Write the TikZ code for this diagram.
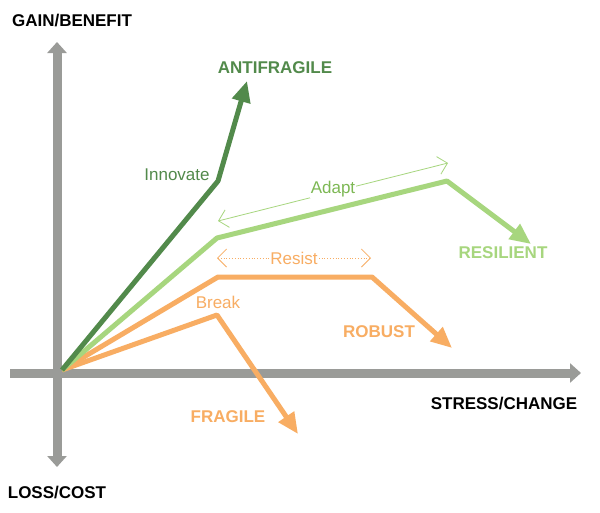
\documentclass[tikz,border=0pt]{standalone}
\usepackage{fontspec}
\setmainfont{Liberation Sans}
\usetikzlibrary{arrows.meta}
\definecolor{axisgray}{HTML}{9A9B98}
\definecolor{dkgreen}{HTML}{528A4B}
\definecolor{ltgreen}{HTML}{A7D67E}
\definecolor{midgreen}{HTML}{7DB854}
\definecolor{orng}{HTML}{F8AD63}
\tikzset{
  axisline/.style={draw=axisgray,line width=9pt},
  curve/.style={line width=5pt,line join=round,-{Triangle[length=21pt,width=18pt]}},
  captext/.style={font=\bfseries\fontsize{17}{19}\selectfont,inner sep=0pt},
  lbl/.style={font=\fontsize{17}{19}\selectfont,inner sep=1pt},
  span/.style={line width=0.8pt,{Straight Barb[length=9pt,width=18pt]}-{Straight Barb[length=9pt,width=18pt]}},
}
\begin{document}
\begin{tikzpicture}[x=1pt,y=-1pt]
\useasboundingbox[fill=white] (0,0) rectangle (600,512);
% axes
\coordinate (vt) at (57,42);
\coordinate (vb) at (57,467);
\coordinate (hl) at (10,373);
\coordinate (hr) at (581,373);
\draw[axisline,{Triangle[length=11pt,width=19pt]}-{Triangle[length=11pt,width=19pt]}] (vb) -- (vt);
\draw[axisline,-{Triangle[length=11pt,width=19pt]}] (hl) -- (hr);
\node[captext,text=black] (gain) at (72,21) {GAIN/BENEFIT};
\node[captext,text=black] (loss) at (57,493) {LOSS/COST};
\node[captext,text=black] (stress) at (504,404) {STRESS/CHANGE};
% origin
\coordinate (o) at (62,370);
% fragile
\coordinate (f1) at (217,315);
\coordinate (f2) at (298,434);
\draw[curve,orng] (o) -- (f1) -- (f2);
% robust
\coordinate (r1) at (218,277);
\coordinate (r2) at (372,277);
\coordinate (r3) at (452,348);
\draw[curve,orng] (o) -- (r1) -- (r2) -- (r3);
% resilient
\coordinate (s1) at (217,238);
\coordinate (s2) at (447,181);
\coordinate (s3) at (531,244);
\draw[curve,ltgreen] (o) -- (s1) -- (s2) -- (s3);
% antifragile
\coordinate (a1) at (218,181);
\coordinate (a2) at (247,81);
\draw[curve,dkgreen] (o) -- (a1) -- (a2);
% spans
\coordinate (adL) at (218,221);
\coordinate (adR) at (448,163);
\draw[span,ltgreen] (adL) -- node[lbl,fill=white,text=midgreen,pos=0.5,yshift=3pt] (adapt) {Adapt} (adR);
\coordinate (rsL) at (217,258);
\coordinate (rsR) at (371,258);
\draw[span,orng,dotted] (rsL) -- node[lbl,fill=white,text=orng,pos=0.5] (resist) {Resist} (rsR);
% labels
\node[lbl,text=dkgreen] (innov) at (177,175) {Innovate};
\node[lbl,text=orng] (break) at (218,302) {Break};
\node[captext,text=dkgreen] (anti) at (275,68) {ANTIFRAGILE};
\node[captext,text=ltgreen] (resil) at (503,253) {RESILIENT};
\node[captext,text=orng] (robust) at (379,332) {ROBUST};
\node[captext,text=orng] (fragile) at (228,417) {FRAGILE};
\end{tikzpicture}
\end{document}
